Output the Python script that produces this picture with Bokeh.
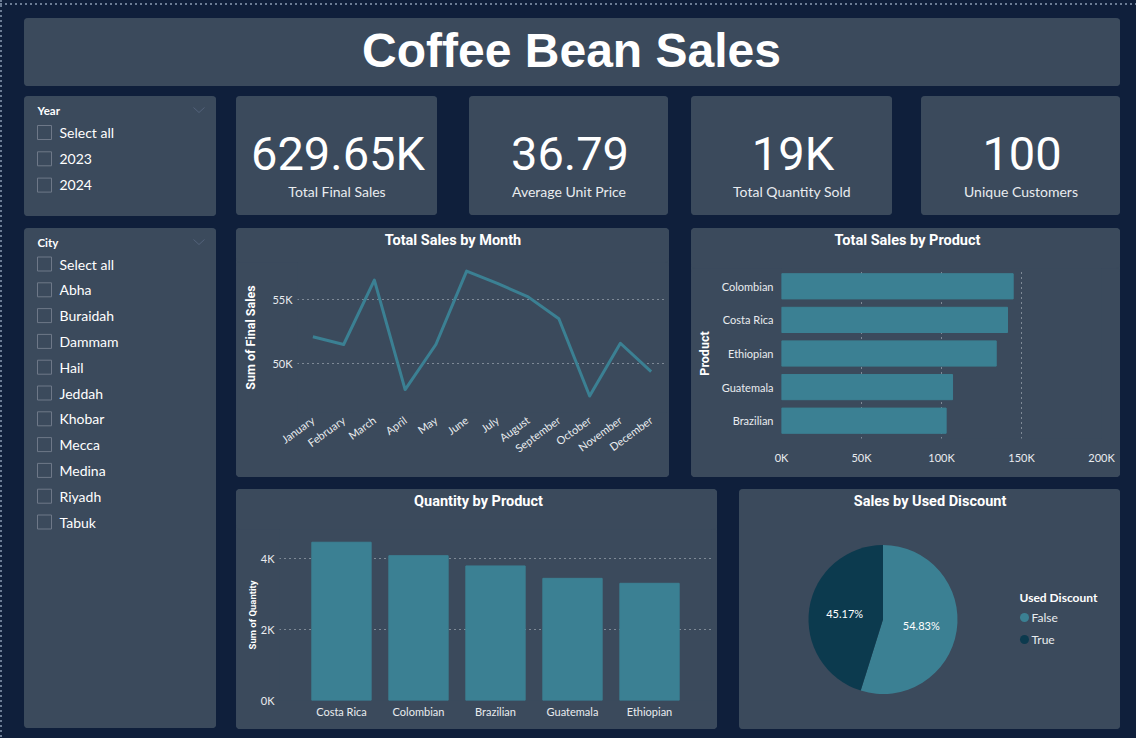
import math

from bokeh.core.properties import value
from bokeh.embed import file_html
from bokeh.layouts import column, row
from bokeh.models import CustomJSTickFormatter, FactorRange, FixedTicker, Range1d
from bokeh.plotting import figure
from bokeh.resources import INLINE

# ---------------------------------------------------------------- data
months = ["January", "February", "March", "April", "May", "June", "July",
          "August", "September", "October", "November", "December"]
month_sales = [52100, 51500, 56500, 48000, 51500, 57200, 56250, 55200,
               53500, 47500, 51600, 49400]

sales_products = ["Colombian", "Costa Rica", "Ethiopian", "Guatemala", "Brazilian"]
product_sales = [144800, 141250, 134200, 106900, 102900]

qty_products = ["Costa Rica", "Colombian", "Brazilian", "Guatemala", "Ethiopian"]
product_qty = [4470, 4090, 3800, 3450, 3310]

discount_labels = ["False", "True"]
discount_share = [54.83, 45.17]

kpi_values = ["629.65K", "36.79", "19K", "100"]
kpi_labels = ["Total Final Sales", "Average Unit Price", "Total Quantity Sold", "Unique Customers"]

year_options = ["Select all", "2023", "2024"]
city_options = ["Select all", "Abha", "Buraidah", "Dammam", "Hail", "Jeddah",
                "Khobar", "Mecca", "Medina", "Riyadh", "Tabuk"]

sales_ticks = [50000, 55000]
product_ticks = [0, 50000, 100000, 150000, 200000]
qty_ticks = [0, 2000, 4000]

# ---------------------------------------------------------------- style
BG = "#0F1F3B"
CARD = "#3B4A5C"
TEAL = "#3B8093"
NAVY = "#0C3A4E"
WHITE = "#FFFFFF"
SOFT = "#E9ECEF"
GRID = "#C3C9D1"
BOX = "#6E7888"
CHEVRON = "#53627A"

UI = "Lato"
HEAD = "Roboto"
NUM = "Roboto"

CARD_STYLE = {"background-color": CARD, "border-radius": "4px", "overflow": "hidden"}
K_FMT = CustomJSTickFormatter(code="return (tick / 1000) + 'K'")


def base(w, h, margin=None, **kw):
    opts = dict(width=w, height=h, output_backend="svg", toolbar_location=None,
                background_fill_color=CARD, border_fill_color=CARD,
                outline_line_color=None, margin=margin, styles=CARD_STYLE)
    opts.update(kw)
    return figure(**opts)


def panel(w, h, margin=None):
    # pixel-unit canvas, y grows downwards
    p = base(w, h, margin, x_range=Range1d(0, w), y_range=Range1d(h, 0),
             x_axis_location=None, y_axis_location=None, min_border=0)
    p.grid.visible = False
    return p


def style_axes(p, size="11px"):
    p.axis.axis_line_color = None
    p.axis.major_tick_line_color = None
    p.axis.minor_tick_line_color = None
    p.axis.major_tick_out = 0
    p.axis.minor_tick_out = 0
    p.axis.major_tick_in = 0
    p.axis.major_label_text_font = UI
    p.axis.major_label_text_font_size = size
    p.axis.major_label_text_color = SOFT
    p.axis.axis_label_text_font = HEAD
    p.axis.axis_label_text_font_style = "bold"
    p.axis.axis_label_text_color = WHITE


def heading(w, h, text, x, y):
    # title strip that sits on top of a chart inside the same card
    s = panel(w, h)
    s.text(x=[x], y=[y], text=[text], text_font=value(HEAD), text_font_style="bold",
           text_font_size="14.5px", text_color=WHITE, text_align="center",
           text_baseline="middle")
    return s


def card(margin, *parts):
    return column(*[column(part) for part in parts], margin=margin, styles=CARD_STYLE)


# ---------------------------------------------------------------- header
header = panel(1096, 68, (18, 0, 0, 24))
header.text(x=[547], y=[32], text=["Coffee Bean Sales"], text_font=value("Liberation Sans"),
            text_font_style="bold", text_font_size="48px", text_color=WHITE,
            text_align="center", text_baseline="middle")


# ---------------------------------------------------------------- slicers
def slicer(h, margin, title, options, first, step):
    p = panel(192, h, margin)
    p.text(x=[13], y=[14], text=[title], text_font=value(UI), text_font_style="bold",
           text_font_size="11.5px", text_color=WHITE, text_baseline="middle")
    p.line(x=[169, 174.5, 180], y=[11, 16, 11], line_color=CHEVRON, line_width=1)
    ys = [first + i * step for i in range(len(options))]
    p.rect(x=[20] * len(options), y=ys, width=14, height=14, fill_alpha=0,
           line_color=BOX, line_width=1)
    p.text(x=[35] * len(options), y=ys, text=options, text_font=value(UI),
           text_font_size="14px", text_color=WHITE, text_baseline="middle")
    return p


year_panel = slicer(120, (10, 0, 0, 24), "Year", year_options, 36, 26.3)
city_panel = slicer(500, (12, 0, 0, 24), "City", city_options, 35.5, 25.8)

# ---------------------------------------------------------------- KPI cards
kpi_widths = [201, 199, 201, 199]
kpi_gaps = [20, 32, 23, 29]
kpi_cards = []
for val, lab, w, g in zip(kpi_values, kpi_labels, kpi_widths, kpi_gaps):
    c = panel(w, 119, (10, 0, 0, g))
    c.text(x=[w / 2 + 1], y=[57], text=[val], text_font=value(NUM), text_font_size="47px",
           text_color=WHITE, text_align="center", text_baseline="middle")
    c.text(x=[w / 2], y=[95], text=[lab], text_font=value(UI), text_font_size="14px",
           text_color=SOFT, text_align="center", text_baseline="middle")
    kpi_cards.append(column(c))

# ---------------------------------------------------------------- sales by month
line_p = base(433, 215, x_range=FactorRange(factors=months),
              y_range=Range1d(46220, 57870), min_border_left=61, min_border_right=3,
              min_border_top=0, min_border_bottom=65)
line_p.line(x=months, y=month_sales, line_color=TEAL, line_width=3, line_join="round")
style_axes(line_p)
line_p.xgrid.visible = False
line_p.ygrid.grid_line_color = GRID
line_p.ygrid.grid_line_dash = "1 4"
line_p.yaxis.ticker = FixedTicker(ticks=sales_ticks)
line_p.yaxis.formatter = K_FMT
line_p.yaxis.major_label_standoff = 5
line_p.yaxis.axis_label = "Sum of Final Sales"
line_p.yaxis.axis_label_text_font_size = "12.5px"
line_p.yaxis.axis_label_standoff = 11
line_p.xaxis.major_label_orientation = math.pi / 5
line_p.xaxis.major_label_standoff = 6
line_card = card((13, 0, 0, 20), heading(433, 34, "Total Sales by Month", 216.5, 12), line_p)

# ---------------------------------------------------------------- sales by product
prod_p = base(429, 209, x_range=Range1d(0, 200000),
              y_range=FactorRange(factors=sales_products[::-1], range_padding=0.012),
              min_border_left=90, min_border_right=19, min_border_top=0, min_border_bottom=39)
prod_p.hbar(y=sales_products, left=0, right=product_sales, height=0.75, color=TEAL)
style_axes(prod_p)
prod_p.ygrid.visible = False
prod_p.xgrid.grid_line_color = GRID
prod_p.xgrid.grid_line_dash = "1 4"
prod_p.xaxis.ticker = FixedTicker(ticks=product_ticks)
prod_p.xaxis.formatter = K_FMT
prod_p.xaxis.major_label_standoff = 12
prod_p.yaxis.major_label_standoff = 8
prod_p.yaxis.axis_label = "Product"
prod_p.yaxis.axis_label_text_font_size = "12.5px"
prod_p.yaxis.axis_label_standoff = 7
prod_card = card((13, 0, 0, 22), heading(429, 40, "Total Sales by Product", 216, 11.5), prod_p)

# ---------------------------------------------------------------- quantity by product
qty_p = base(481, 200, x_range=FactorRange(factors=qty_products, range_padding=0.122),
             y_range=Range1d(0, 4830), min_border_left=43, min_border_right=6,
             min_border_top=0, min_border_bottom=29)
qty_p.vbar(x=qty_products, top=product_qty, width=0.77, color=TEAL)
style_axes(qty_p)
qty_p.xgrid.visible = False
qty_p.ygrid.grid_line_color = GRID
qty_p.ygrid.grid_line_dash = "1 4"
qty_p.yaxis.ticker = FixedTicker(ticks=qty_ticks)
qty_p.yaxis.formatter = K_FMT
qty_p.yaxis.major_label_standoff = 5
qty_p.yaxis.axis_label = "Sum of Quantity"
qty_p.yaxis.axis_label_text_font_size = "9.5px"
qty_p.yaxis.axis_label_standoff = 0
qty_p.xaxis.major_label_standoff = 4
qty_card = card((12, 0, 0, 20), heading(481, 40, "Quantity by Product", 242, 12), qty_p)

# ---------------------------------------------------------------- sales by used discount
pie_p = base(381, 240, (12, 0, 0, 22), x_range=Range1d(0, 381), y_range=Range1d(0, 240),
             x_axis_location=None, y_axis_location=None, min_border=0)
pie_p.grid.visible = False
pie_p.text(x=[190.5], y=[228], text=["Sales by Used Discount"], text_font=value(HEAD),
           text_font_style="bold", text_font_size="14.5px", text_color=WHITE,
           text_align="center", text_baseline="middle")

cx, cy, radius = 143.5, 110, 74.5
slice_colors = [TEAL, NAVY]
angle = math.pi / 2
for share, colour in zip(discount_share, slice_colors):
    sweep = 2 * math.pi * share / 100
    end = angle - sweep
    pie_p.wedge(x=cx, y=cy, radius=radius, start_angle=end, end_angle=angle,
                fill_color=colour, line_color=None)
    mid = angle - sweep / 2
    pie_p.text(x=[cx + 0.52 * radius * math.cos(mid)], y=[cy + 0.52 * radius * math.sin(mid)],
               text=[f"{share:.2f}%"], text_font=value(UI), text_font_size="11px",
               text_color=WHITE, text_align="center", text_baseline="middle")
    angle = end

pie_p.text(x=[280], y=[132], text=["Used Discount"], text_font=value(UI),
           text_font_style="bold", text_font_size="12px", text_color=WHITE,
           text_baseline="middle")
legend_y = [112, 90]
pie_p.scatter(x=[285, 285], y=legend_y, size=9, marker="circle", fill_color=slice_colors,
              line_color=None)
pie_p.text(x=[292, 292], y=legend_y, text=discount_labels, text_font=value(UI),
           text_font_size="12px", text_color=SOFT, text_baseline="middle")

# ---------------------------------------------------------------- page
left_col = column(column(year_panel), column(city_panel))
right_col = column(row(*kpi_cards),
                   row(line_card, prod_card),
                   row(qty_card, column(pie_p)))
page_style = {
    "background-color": BG,
    "background-image": ("repeating-linear-gradient(90deg, #6B7C95 0 2px, transparent 2px 5px),"
                         "repeating-linear-gradient(180deg, #6B7C95 0 2px, transparent 2px 5px)"),
    "background-size": "100% 2px, 2px 100%",
    "background-position": "0 3px, 0 0",
    "background-repeat": "no-repeat",
}
page = column(column(header), row(left_col, right_col), width=1136, height=738,
              sizing_mode="fixed", styles=page_style)

with open("out.html", "w") as f:
    f.write(file_html(page, INLINE, title="Coffee Bean Sales"))
